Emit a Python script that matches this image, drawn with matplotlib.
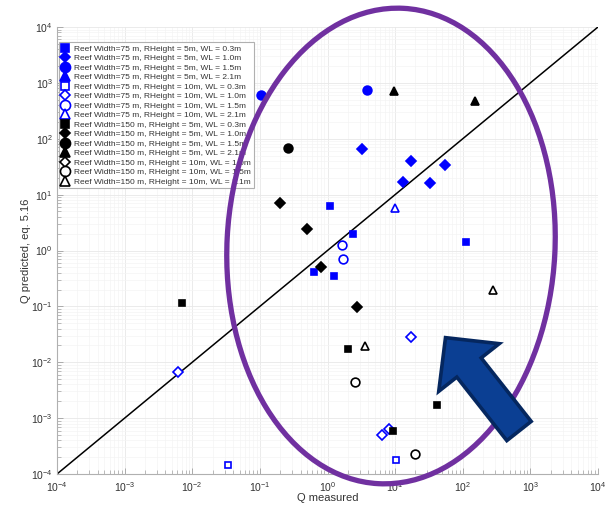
import matplotlib
matplotlib.use("Agg")
import matplotlib.pyplot as plt
from matplotlib.patches import Ellipse, FancyArrow
from matplotlib.transforms import Affine2D
from matplotlib.ticker import LogLocator, NullFormatter

plt.rcParams['font.family'] = ['Liberation Sans', 'DejaVu Sans']
plt.rcParams['mathtext.default'] = 'regular'

# ---- data (Q measured, Q predicted) ----
labels = [
    "Reef Width=75 m, RHeight = 5m, WL = 0.3m",
    "Reef Width=75 m, RHeight = 5m, WL = 1.0m",
    "Reef Width=75 m, RHeight = 5m, WL = 1.5m",
    "Reef Width=75 m, RHeight = 5m, WL = 2.1m",
    "Reef Width=75 m, RHeight = 10m, WL = 0.3m",
    "Reef Width=75 m, RHeight = 10m, WL = 1.0m",
    "Reef Width=75 m, RHeight = 10m, WL = 1.5m",
    "Reef Width=75 m, RHeight = 10m, WL = 2.1m",
    "Reef Width=150 m, RHeight = 5m, WL = 0.3m",
    "Reef Width=150 m, RHeight = 5m, WL = 1.0m",
    "Reef Width=150 m, RHeight = 5m, WL = 1.5m",
    "Reef Width=150 m, RHeight = 5m, WL = 2.1m",
    "Reef Width=150 m, RHeight = 10m, WL = 1.0m",
    "Reef Width=150 m, RHeight = 10m, WL = 1.5m",
    "Reef Width=150 m, RHeight = 10m, WL = 2.1m",
]

x_w75_h5_03 = [1.1, 2.4, 0.63, 1.26, 110]
y_w75_h5_03 = [6.3, 2.0, 0.42, 0.35, 1.4]
x_w75_h5_10 = [3.2, 17, 13, 33, 55]
y_w75_h5_10 = [66, 40, 17, 16, 34]
x_w75_h5_15 = [0.105, 3.9]
y_w75_h5_15 = [600, 740]
x_w75_h5_21 = []
y_w75_h5_21 = []
x_w75_h10_03 = [0.034, 10.3]
y_w75_h10_03 = [1.45e-4, 1.8e-4]
x_w75_h10_10 = [0.0062, 17, 6.5, 8.1]
y_w75_h10_10 = [0.0068, 0.028, 5e-4, 6.5e-4]
x_w75_h10_15 = [1.66, 1.7]
y_w75_h10_15 = [1.26, 0.71]
x_w75_h10_21 = [10]
y_w75_h10_21 = [5.8]
x_w150_h5_03 = [0.0071, 2.0, 41, 9.3]
y_w150_h5_03 = [0.115, 0.017, 1.7e-3, 5.9e-4]
x_w150_h5_10 = [0.2, 0.5, 0.81, 2.75]
y_w150_h5_10 = [7.1, 2.4, 0.51, 0.098]
x_w150_h5_15 = [0.26]
y_w150_h5_15 = [69]
x_w150_h5_21 = [9.7, 150]
y_w150_h5_21 = [720, 480]
x_w150_h10_10 = []
y_w150_h10_10 = []
x_w150_h10_15 = [2.57, 20]
y_w150_h10_15 = [4.5e-3, 2.3e-4]
x_w150_h10_21 = [3.6, 280]
y_w150_h10_21 = [0.0195, 0.2]

xs = [x_w75_h5_03, x_w75_h5_10, x_w75_h5_15, x_w75_h5_21,
      x_w75_h10_03, x_w75_h10_10, x_w75_h10_15, x_w75_h10_21,
      x_w150_h5_03, x_w150_h5_10, x_w150_h5_15, x_w150_h5_21,
      x_w150_h10_10, x_w150_h10_15, x_w150_h10_21]
ys = [y_w75_h5_03, y_w75_h5_10, y_w75_h5_15, y_w75_h5_21,
      y_w75_h10_03, y_w75_h10_10, y_w75_h10_15, y_w75_h10_21,
      y_w150_h5_03, y_w150_h5_10, y_w150_h5_15, y_w150_h5_21,
      y_w150_h10_10, y_w150_h10_15, y_w150_h10_21]

# style per series
colors = ['#0000ff'] * 8 + ['black'] * 7
markers = ['s', 'D', 'o', '^'] * 3 + ['D', 'o', '^']
filled = [True] * 4 + [False] * 4 + [True] * 4 + [False] * 3
msize = {'s': 5.0, 'D': 4.8, 'o': 6.3, '^': 6.3}

fig = plt.figure(figsize=(6.13, 5.05), dpi=100, facecolor='white')
ax = fig.add_axes([57/613, 31/505, 541/613, 447/505])

ax.set_xscale('log')
ax.set_yscale('log')
ax.set_xlim(1e-4, 1e4)
ax.set_ylim(1e-4, 1e4)

# 1:1 line
ax.plot([1e-4, 1e4], [1e-4, 1e4], color='black', lw=1.1, zorder=2)

for xv, yv, c, m, f, lab in zip(xs, ys, colors, markers, filled, labels):
    ax.plot(xv, yv, linestyle='none', marker=m, ms=msize[m],
            color=c, markerfacecolor=c if f else 'white',
            markeredgecolor=c, markeredgewidth=1.2, label=lab, zorder=3)

ax.xaxis.set_major_locator(LogLocator(base=10, numticks=20))
ax.yaxis.set_major_locator(LogLocator(base=10, numticks=20))
ax.xaxis.set_minor_locator(LogLocator(base=10, subs=range(2, 10), numticks=100))
ax.yaxis.set_minor_locator(LogLocator(base=10, subs=range(2, 10), numticks=100))
ax.xaxis.set_minor_formatter(NullFormatter())
ax.yaxis.set_minor_formatter(NullFormatter())

ax.grid(True, which='major', color='#e8e8e8', lw=0.6)
ax.grid(True, which='minor', color='#f4f4f4', lw=0.5)
ax.set_axisbelow(True)

for s in ['top', 'right']:
    ax.spines[s].set_visible(False)
for s in ['left', 'bottom']:
    ax.spines[s].set_color('#b0b0b0')
    ax.spines[s].set_linewidth(0.8)
ax.tick_params(which='both', direction='in', color='#a0a0a0', labelcolor='#333333',
               labelsize=7.5)
ax.tick_params(axis='x', which='both', pad=4.5)
ax.tick_params(axis='y', which='both', pad=3)
ax.tick_params(which='major', length=4, width=0.6)
ax.tick_params(which='minor', length=3, width=0.5)

ax.set_xlabel('Q measured', fontsize=8, color='#333333', labelpad=-1)
ax.set_ylabel('Q predicted, eq. 5.16', fontsize=8, color='#333333', labelpad=0)

leg = ax.legend(loc='upper left', bbox_to_anchor=(0.004, 0.966), borderaxespad=0,
                fontsize=6.0, labelspacing=0.2, handlelength=0.9, handletextpad=0.6,
                markerscale=1.15, borderpad=0.3, fancybox=False,
                edgecolor='#b0b0b0', framealpha=1)
leg.get_frame().set_linewidth(0.8)
for t in leg.get_texts():
    t.set_color('#333333')

# annotation overlay in image-pixel coordinates (origin top-left)
px = Affine2D().scale(1/100, -1/100).translate(0, 5.05) + fig.dpi_scale_trans

ell = Ellipse((391, 246), 328, 476, angle=3, transform=px, fill=False,
              edgecolor='#7030a0', lw=3.8, zorder=5)
fig.add_artist(ell)

arr = FancyArrow(519, 431, -50, -63.5, width=31, head_width=77, head_length=38,
                 length_includes_head=False, transform=px,
                 facecolor='#0b3f93', edgecolor='#05275f', lw=2.6, zorder=6)
fig.add_artist(arr)

fig.savefig('out.png', dpi=100, facecolor='white')
